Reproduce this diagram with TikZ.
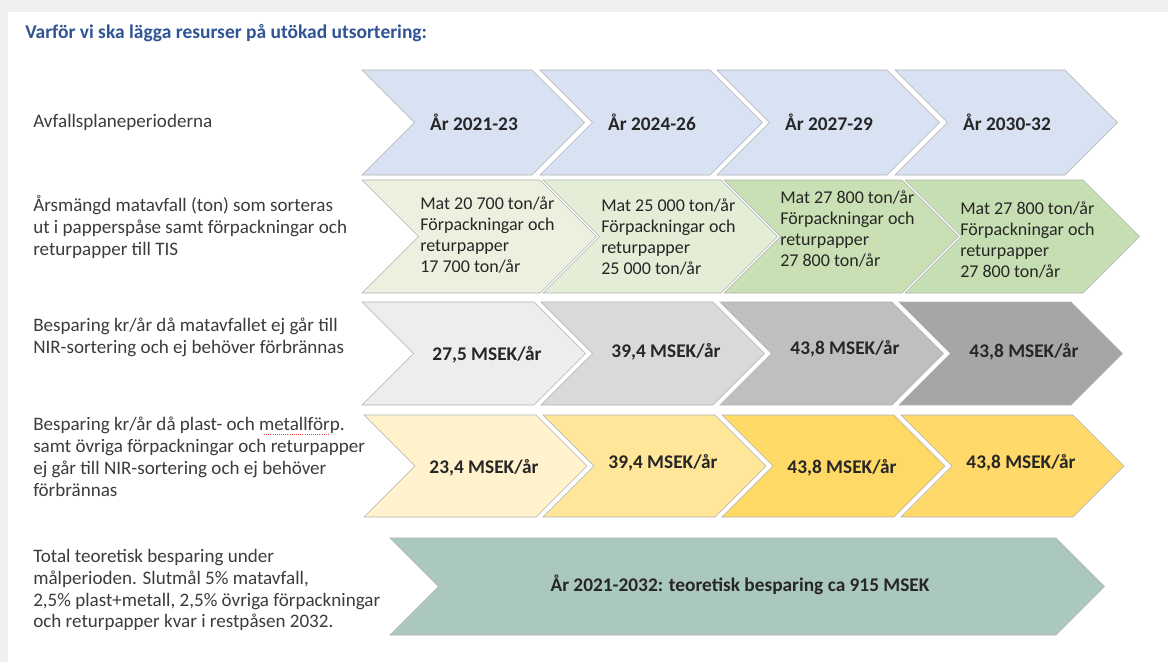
\documentclass[tikz,border=0pt]{standalone}
\usepackage{fontspec}
\setmainfont{Carlito}
\definecolor{titleblue}{HTML}{2F5496}
\definecolor{txt}{HTML}{262626}
\definecolor{blu}{HTML}{D9E2F3}
\definecolor{grnA}{HTML}{EBF1DE}
\definecolor{grnB}{HTML}{E4EDD6}
\definecolor{grnC}{HTML}{C9DFB4}
\definecolor{grnD}{HTML}{C5DFB2}
\definecolor{gryA}{HTML}{EDEDED}
\definecolor{gryB}{HTML}{D9D9D9}
\definecolor{gryC}{HTML}{BFBFBF}
\definecolor{gryD}{HTML}{A6A6A6}
\definecolor{ylwA}{HTML}{FFF2CC}
\definecolor{ylwB}{HTML}{FFE699}
\definecolor{ylwC}{HTML}{FFD966}
\definecolor{ylwD}{HTML}{FFDA6A}
\definecolor{sage}{HTML}{ABC8BC}
\tikzset{
  chev/.style={draw=black!30, line width=0.5pt},
  lbl/.style={anchor=west, align=left, inner sep=0pt, text=txt!90, font=\fontsize{14.3}{16.4}\selectfont},
  big/.style={inner sep=0pt, text=txt, font=\bfseries\fontsize{14.5}{17}\selectfont},
  cell/.style={anchor=west, align=left, inner sep=0pt, text=txt, font=\fontsize{13.5}{15.75}\selectfont}
}
\newcommand{\chevron}[6]{\draw[chev,fill=#6] (#1,#2) -- (#1+#4,#2) -- (#1+#4+#5,{(#2+#3)/2}) -- (#1+#4,#3) -- (#1,#3) -- (#1+#5,{(#2+#3)/2}) -- cycle;}
\begin{document}
\begin{tikzpicture}[x=0.75pt,y=-0.75pt]
    \useasboundingbox (0,0) rectangle (1168,662);
    \fill[black!6] (0,0) rectangle (1168,662);
    \fill[white] (8,12) rectangle (1168,662);
    \node[anchor=west,inner sep=0pt,text=titleblue,font=\bfseries\fontsize{14.6}{17}\selectfont] (title) at (25,33) {Varför vi ska lägga resurser på utökad utsortering:};

    \node[lbl] (l1) at (33,122) {Avfallsplaneperioderna};
    \node[lbl] (l2) at (33,227) {Årsmängd matavfall (ton) som sorteras\\ut i papperspåse samt förpackningar och\\returpapper till TIS};
    \node[lbl] (l3) at (33,337) {Besparing kr/år då matavfallet ej går till\\NIR-sortering och ej behöver förbrännas};
    \node[lbl] (l4) at (33,457) {Besparing kr/år då plast- och metallförp.\\samt övriga förpackningar och returpapper\\ej går till NIR-sortering och ej behöver\\förbrännas};
    \node[lbl] (l5) at (33,590) {Total teoretisk besparing under\\målperioden. Slutmål 5\% matavfall,\\2,5\% plast+metall, 2,5\% övriga förpackningar\\och returpapper kvar i restpåsen 2032.};
    \draw[red!75,densely dotted,line width=0.6pt] (264,434) -- (329,434);

    \chevron{362}{70}{175}{170}{52.5}{blu}
    \chevron{540}{70}{175}{170}{52.5}{blu}
    \chevron{717}{70}{175}{170}{52.5}{blu}
    \chevron{895}{70}{175}{170}{52.5}{blu}
    \node[big] (p1) at (474,122) {År 2021-23};
    \node[big] (p2) at (652,122) {År 2024-26};
    \node[big] (p3) at (829,122) {År 2027-29};
    \node[big] (p4) at (1007,122) {År 2030-32};

    \chevron{362}{180}{293}{178}{56.5}{grnA}
    \chevron{543}{180}{293}{178}{56.5}{grnB}
    \chevron{724}{180}{293}{178}{56.5}{grnC}
    \chevron{905}{180}{293}{178}{56.5}{grnD}
    \node[cell] (m1) at (420,235) {Mat 20 700 ton/år\\Förpackningar och\\returpapper\\17 700 ton/år};
    \node[cell] (m2) at (601,237) {Mat 25 000 ton/år\\Förpackningar och\\returpapper\\25 000 ton/år};
    \node[cell] (m3) at (780,229) {Mat 27 800 ton/år\\Förpackningar och\\returpapper\\27 800 ton/år};
    \node[cell] (m4) at (960,240) {Mat 27 800 ton/år\\Förpackningar och\\returpapper\\27 800 ton/år};

    \chevron{362}{302}{405}{172}{51.5}{gryA}
    \chevron{541}{302}{405}{172}{51.5}{gryB}
    \chevron{720}{302}{405}{172}{51.5}{gryC}
    \chevron{899}{302}{405}{172}{51.5}{gryD}
    \node[big] (s1) at (487,355) {27,5 MSEK/år};
    \node[big] (s2) at (666,352) {39,4 MSEK/år};
    \node[big] (s3) at (845,349) {43,8 MSEK/år};
    \node[big] (s4) at (1024,352) {43,8 MSEK/år};

    \chevron{364}{415}{517}{172}{51}{ylwA}
    \chevron{543}{415}{517}{172}{51}{ylwB}
    \chevron{722}{415}{517}{172}{51}{ylwC}
    \chevron{901}{415}{517}{172}{51}{ylwD}
    \node[big] (f1) at (484,468) {23,4 MSEK/år};
    \node[big] (f2) at (663,463) {39,4 MSEK/år};
    \node[big] (f3) at (842,468) {43,8 MSEK/år};
    \node[big] (f4) at (1021,463) {43,8 MSEK/år};

    \chevron{390}{538}{635}{666}{48.5}{sage}
    \node[big] (tot) at (740,585) {År 2021-2032: teoretisk besparing ca 915 MSEK};
\end{tikzpicture}
\end{document}
